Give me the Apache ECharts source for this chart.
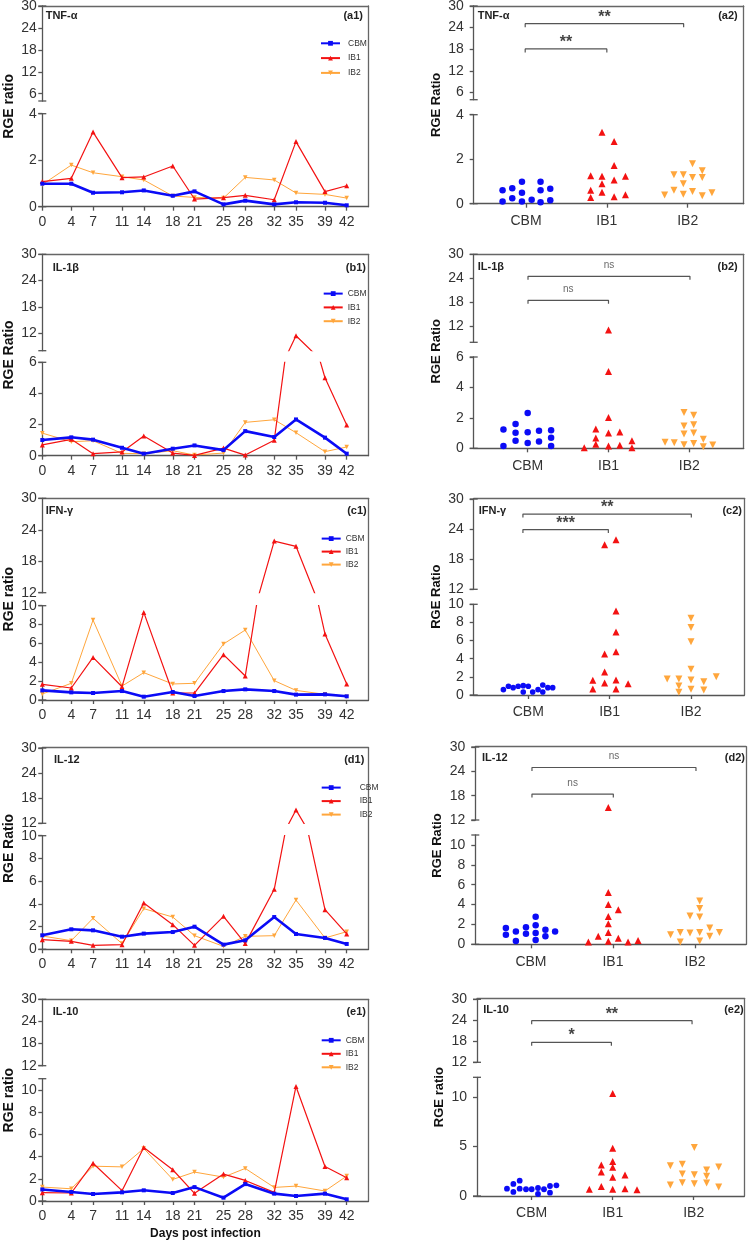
<!DOCTYPE html>
<html><head><meta charset="utf-8">
<script src="https://cdn.jsdelivr.net/npm/echarts@6/dist/echarts.min.js"></script>
<style>html,body{margin:0;padding:0;background:#fff}#c{width:752px;height:1243px}</style>
</head><body><div id="c"></div>
<script>
// ================= DATA =================
const days = [0,4,7,11,14,18,21,25,28,32,35,39,42];
const groups = ['CBM','IB1','IB2'];

// --- TNF-α ---
const tnfCBM = [0.99,0.99,0.60,0.62,0.70,0.47,0.66,0.10,0.26,0.10,0.19,0.17,0.06];
const tnfIB1 = [1.08,1.22,3.21,1.25,1.28,1.75,0.33,0.39,0.49,0.30,2.80,0.65,0.90];
const tnfIB2 = [0.95,1.79,1.46,1.29,1.15,0.46,0.40,0.37,1.26,1.15,0.59,0.53,0.37];
const tnfPtsCBM = [0.10,0.61,0.69,0.25,0.99,0.49,0.10,0.18,0.99,0.61,0.06,0.67,0.16];
const tnfJitCBM = [-0.29,-0.29,-0.17,-0.17,-0.05,-0.05,-0.05,0.07,0.18,0.18,0.18,0.30,0.30];
const tnfPtsIB1 = [1.26,0.61,0.28,3.21,1.23,0.90,0.51,2.79,1.72,1.06,0.31,1.23,0.40];
const tnfJitIB1 = [-0.20,-0.20,-0.20,-0.06,-0.06,-0.06,-0.06,0.09,0.09,0.09,0.09,0.23,0.23];
const tnfPtsIB2 = [0.39,1.30,0.60,1.30,0.90,0.43,1.80,1.18,0.55,1.48,1.18,0.36,0.49];
const tnfJitIB2 = [-0.285,-0.17,-0.17,-0.054,-0.054,-0.054,0.06,0.06,0.06,0.18,0.18,0.18,0.30];
const tnfSig = [{from:0.99,to:2.95,y:25.1,text:'**'},{from:0.99,to:2.0,y:18.1,text:'**'}];

// --- IL-1β ---
const il1CBM = [1.01,1.18,1.03,0.51,0.13,0.45,0.66,0.36,1.58,1.20,2.33,1.16,0.13];
const il1IB1 = [0.69,1.05,0.13,0.24,1.26,0.17,0.02,0.49,0.04,0.99,11.4,5.01,1.97];
const il1IB2 = [1.45,0.90,0.96,0.15,0.13,0.32,0.04,0.17,2.14,2.31,1.48,0.26,0.56];
const il1PtsCBM = [1.23,0.15,1.60,1.03,0.50,2.32,1.05,0.35,1.16,0.44,1.18,0.70,0.15];
const il1JitCBM = [-0.30,-0.30,-0.15,-0.15,-0.15,0,0,0,0.14,0.14,0.29,0.29,0.29];
const il1PtsIB1 = [0.04,1.27,0.68,0.26,11.1,5.04,2.02,1.01,0.15,1.07,0.20,0.50,0.04];
const il1JitIB1 = [-0.30,-0.157,-0.157,-0.157,0,0,0,0,0,0.14,0.14,0.29,0.29];
const il1PtsIB2 = [0.39,0.37,2.35,1.47,0.94,0.24,2.17,1.54,1.01,0.31,0.59,0.11,0.22];
const il1JitIB2 = [-0.30,-0.186,-0.066,-0.066,-0.066,-0.066,0.054,0.054,0.054,0.054,0.173,0.173,0.29];
const il1Sig = [{from:1.004,to:3.008,y:24.5,text:'ns'},{from:1.004,to:2.0,y:18.5,text:'ns'}];

// --- IFN-γ ---
const ifnCBM = [1.02,0.81,0.74,0.95,0.35,0.85,0.42,0.95,1.13,0.95,0.57,0.60,0.39];
const ifnIB1 = [1.66,1.27,4.52,1.41,9.29,0.74,0.74,4.81,2.54,21.85,20.84,7.0,1.70];
const ifnIB2 = [0.64,1.77,8.48,1.48,2.90,1.70,1.77,5.94,7.42,2.05,1.02,0.60,0.35];
const ifnPtsCBM = [0.59,0.96,0.81,0.96,1.03,0.33,0.96,0.33,0.59,1.10,0.33,0.81,0.81];
const ifnJitCBM = [-0.306,-0.244,-0.186,-0.124,-0.062,-0.062,0,0.054,0.12,0.178,0.178,0.24,0.30];
const ifnPtsIB1 = [1.62,0.66,20.86,4.52,2.54,1.32,21.86,9.26,6.95,4.78,1.65,0.66,1.25];
const ifnJitIB1 = [-0.207,-0.207,-0.062,-0.062,-0.062,-0.062,0.078,0.078,0.078,0.078,0.078,0.078,0.227];
const ifnPtsIB2 = [1.76,1.76,0.99,0.29,8.46,7.43,5.88,2.83,1.65,0.63,1.47,0.55,2.02];
const ifnJitIB2 = [-0.293,-0.149,-0.149,-0.149,0,0,0,0,0,0,0.157,0.157,0.31];
const ifnSig = [{from:0.934,to:3.004,y:27.0,text:'**'},{from:0.934,to:1.984,y:23.9,text:'***'}];

// --- IL-12 ---
const il12CBM = [1.23,1.76,1.67,1.11,1.38,1.52,1.99,0.41,0.79,2.84,1.35,1.00,0.47];
const il12IB1 = [0.85,0.70,0.35,0.41,4.08,2.17,0.35,2.90,0.50,5.28,15.2,3.49,1.35];
const il12IB2 = [1.17,0.76,2.73,0.50,3.58,2.84,1.20,0.26,1.14,1.20,4.34,1.00,1.55];
const il12PtsCBM = [1.64,0.97,1.30,0.33,1.71,1.07,2.78,1.91,1.14,0.43,1.47,0.80,1.30];
const il12JitCBM = [-0.306,-0.306,-0.184,-0.184,-0.061,-0.061,0.057,0.057,0.057,0.057,0.176,0.176,0.294];
const il12PtsIB1 = [0.23,0.80,15.1,5.22,4.01,2.81,2.07,1.20,0.30,3.48,0.60,0.23,0.37];
const il12JitIB1 = [-0.30,-0.18,-0.057,-0.057,-0.057,-0.057,-0.057,-0.057,-0.057,0.065,0.065,0.184,0.306];
const il12PtsIB2 = [0.97,1.20,0.23,2.84,1.14,4.35,3.61,2.74,1.20,0.33,1.64,0.80,1.20];
const il12JitIB2 = [-0.298,-0.18,-0.18,-0.061,-0.061,0.057,0.057,0.057,0.057,0.057,0.18,0.18,0.298];
const il12Sig = [{from:1.012,to:3.012,y:24.95,text:'ns'},{from:1.012,to:2.004,y:18.4,text:'ns'}];

// --- IL-10 ---
const il10CBM = [1.04,0.81,0.63,0.78,0.96,0.72,1.25,0.30,1.52,0.66,0.45,0.66,0.15];
const il10IB1 = [0.75,0.72,3.40,0.93,4.81,2.81,0.69,2.42,1.85,0.78,10.3,3.10,2.09];
const il10IB2 = [1.25,1.10,3.13,3.07,4.72,1.94,2.60,2.15,2.93,1.22,1.34,0.90,2.24];
const il10PtsCBM = [0.74,1.22,0.41,1.55,0.74,0.68,0.68,0.81,0.20,0.68,1.01,0.34,1.08];
const il10JitCBM = [-0.305,-0.226,-0.226,-0.148,-0.148,-0.07,0,0.078,0.078,0.152,0.226,0.226,0.305];
const il10PtsIB1 = [0.68,3.14,2.43,0.95,10.37,4.83,3.48,2.91,1.89,0.68,2.13,0.74,0.64];
const il10JitIB1 = [-0.288,-0.14,-0.14,-0.14,0,0,0,0,0,0,0.152,0.152,0.30];
const il10PtsIB2 = [3.07,1.11,3.21,2.23,1.35,4.90,2.16,1.25,2.64,1.99,1.32,2.94,0.91];
const il10JitIB2 = [-0.288,-0.288,-0.14,-0.14,-0.14,0.008,0.008,0.008,0.16,0.16,0.16,0.309,0.309];
const il10Sig = [{from:1.0,to:2.98,y:23.9,text:'**'},{from:1.0,to:1.984,y:17.7,text:'*'}];

// tick labels
const upTicksA = [6,12,18,24,30];
const upTicks = [12,18,24,30];

// ================= STYLE / LAYOUT =================
const FONT = '"Liberation Sans", Arial, Helvetica, sans-serif';
const COLORS = {CBM:'#0b0bf6', IB1:'#f31212', IB2:'#ffa63c'};
const LINE = {
  CBM:{width:2.6, symbol:'rect', size:4, rot:0, z:5},
  IB1:{width:1.2, symbol:'triangle', size:5, rot:0, z:4},
  IB2:{width:1.0, symbol:'triangle', size:4.5, rot:180, z:3}
};
const DOT = {
  CBM:{symbol:'circle', size:6.5, rot:0},
  IB1:{symbol:'triangle', size:7, rot:0},
  IB2:{symbol:'triangle', size:7, rot:180}
};
const AXC = '#555';
const axisLineStyle = {color:AXC, width:1.3};
const frameLineStyle = {color:'#666', width:1.3};

const leftPanels = [
  {title:'TNF-α', tag:'(a1)', yName:'RGE ratio', series:[tnfCBM,tnfIB1,tnfIB2],
   L:42.3, fTop:6, fBot:206.7, uTop:6, uBot:101, uMin:4, uLab:upTicksA, lTop:113.7, lBot:206.7, lMax:4, lLab:[0,2,4],
   tX:45.7, tY:17, tagX:363, leg:{left:320, top:38.8, gap:5.8, pad:3}},
  {title:'IL-1β', tag:'(b1)', yName:'RGE Ratio', series:[il1CBM,il1IB1,il1IB2],
   L:42.3, fTop:254.3, fBot:455.7, uTop:254.3, uBot:350.7, uMin:8, uLab:upTicks, lTop:362.3, lBot:455.7, lMax:6, lLab:[0,2,4,6],
   tX:52.7, tY:269.3, tagX:366, leg:{left:322.7, top:289.1, gap:4.8, pad:0}},
  {title:'IFN-γ', tag:'(c1)', yName:'RGE ratio', series:[ifnCBM,ifnIB1,ifnIB2],
   L:42.3, fTop:498.3, fBot:700, uTop:498.3, uBot:592.7, uMin:12, uLab:upTicks, lTop:605.7, lBot:700, lMax:10, lLab:[0,2,4,6,8,10],
   tX:45.7, tY:511.7, tagX:366.7, leg:{left:320.7, top:534.1, gap:4, pad:0}},
  {title:'IL-12', tag:'(d1)', yName:'RGE Ratio', series:[il12CBM,il12IB1,il12IB2],
   L:42.3, fTop:747.7, fBot:949.3, uTop:748, uBot:823.3, uMin:12, uLab:upTicks, lTop:835.7, lBot:949.3, lMax:10, lLab:[0,2,4,6,8,10],
   tX:54, tY:760.7, tagX:364.3, leg:{left:320.7, top:783.1, gap:4.5, pad:14}},
  {title:'IL-10', tag:'(e1)', yName:'RGE ratio', series:[il10CBM,il10IB1,il10IB2], xName:'Days post infection',
   L:42.3, fTop:999.3, fBot:1201, uTop:999.3, uBot:1065.7, uMin:12, uLab:upTicks, lTop:1078.7, lBot:1201, lMax:11, lLab:[0,2,4,6,8,10],
   tX:52.7, tY:1013.3, tagX:366, leg:{left:320.7, top:1035.8, gap:4.5, pad:0}}
];
const rightPanels = [
  {title:'TNF-α', tag:'(a2)', yName:'RGE Ratio', pts:[tnfPtsCBM,tnfPtsIB1,tnfPtsIB2], jit:[tnfJitCBM,tnfJitIB1,tnfJitIB2], sig:tnfSig, sigFont:16,
   L:473.7, R:743.7, xMin:0.353, xMax:3.693, fTop:6, fBot:203.7, uTop:6, uBot:99.7, uMin:4, uLab:upTicksA, lTop:114.7, lBot:203.7, lMax:4, lLab:[0,2,4],
   tX:477.7, tY:17, tagX:737.7},
  {title:'IL-1β', tag:'(b2)', yName:'RGE Ratio', pts:[il1PtsCBM,il1PtsIB1,il1PtsIB2], jit:[il1JitCBM,il1JitIB1,il1JitIB2], sig:il1Sig, sigFont:10,
   L:473.7, R:743.7, xMin:0.332, xMax:3.673, fTop:254.3, fBot:448.3, uTop:254.3, uBot:342.3, uMin:8, uLab:upTicks, lTop:357, lBot:448.3, lMax:6, lLab:[0,2,4,6],
   tX:477.7, tY:267.7, tagX:737.7},
  {title:'IFN-γ', tag:'(c2)', yName:'RGE Ratio', pts:[ifnPtsCBM,ifnPtsIB1,ifnPtsIB2], jit:[ifnJitCBM,ifnJitIB1,ifnJitIB2], sig:ifnSig, sigFont:16, dot:5.6,
   L:473.7, R:744.3, xMin:0.329, xMax:3.655, fTop:498.3, fBot:695, uTop:499, uBot:589.3, uMin:12, uLab:upTicks, lTop:604.3, lBot:695, lMax:10, lLab:[0,2,4,6,8,10],
   tX:478.7, tY:511.7, tagX:742},
  {title:'IL-12', tag:'(d2)', yName:'RGE Ratio', pts:[il12PtsCBM,il12PtsIB1,il12PtsIB2], jit:[il12JitCBM,il12JitIB1,il12JitIB2], sig:il12Sig, sigFont:10,
   L:475.3, R:746, xMin:0.321, xMax:3.622, fTop:746.7, fBot:944.3, uTop:747, uBot:820, uMin:12, uLab:upTicks, lTop:835, lBot:944.3, lMax:11, lLab:[0,2,4,6,8,10],
   tX:482, tY:759, tagX:745},
  {title:'IL-10', tag:'(e2)', yName:'RGE ratio', pts:[il10PtsCBM,il10PtsIB1,il10PtsIB2], jit:[il10JitCBM,il10JitIB1,il10JitIB2], sig:il10Sig, sigFont:16, dot:5.8,
   L:477, R:744.3, xMin:0.325, xMax:3.625, fTop:998.3, fBot:1196, uTop:999.3, uBot:1062.3, uMin:12, uLab:upTicks, lTop:1077.3, lBot:1196, lMax:12, lLab:[0,5,10],
   tX:483.3, tY:1010.7, tagX:743.7}
];

const W = 752;
const option = {
  animation:false, backgroundColor:'#ffffff',
  textStyle:{fontFamily:FONT},
  title:[], legend:[], grid:[], xAxis:[], yAxis:[], series:[]
};

function gridBox(left, top, width, height) {
  return {left, top, width, height, containLabel:false, outerBoundsMode:'none', show:false};
}
function hiddenAxis(grid, extra) {
  return Object.assign({gridIndex:grid, type:'value', min:0, max:1, axisLine:{show:false}, axisTick:{show:false},
    axisLabel:{show:false}, splitLine:{show:false}}, extra || {});
}
function yAx(grid, min, max, labels, margin) {
  return {gridIndex:grid, type:'value', min, max, position:'left',
    axisLine:{show:true, onZero:false, lineStyle:axisLineStyle, symbol:['rect','rect'], symbolSize:[8,1.3]},
    axisTick:{show:true, length:4, customValues:labels, lineStyle:axisLineStyle},
    axisLabel:{show:true, customValues:labels, margin, fontSize:14, color:'#333', fontFamily:FONT},
    splitLine:{show:false}};
}

function addPanel(p, isLeft) {
  const g = option.grid.length;
  const R = isLeft ? p.L + 45 * 7.248 : p.R;
  const w = R - p.L;
  option.grid.push(gridBox(p.L, p.fTop, w, p.fBot - p.fTop));
  option.grid.push(gridBox(p.L, p.uTop, w, p.uBot - p.uTop));
  option.grid.push(gridBox(p.L, p.lTop, w, p.lBot - p.lTop));
  const x0 = option.xAxis.length, y0 = option.yAxis.length;
  const xMin = isLeft ? 0 : p.xMin, xMax = isLeft ? 45 : p.xMax;
  // frame: top border + right border + axis name
  option.xAxis.push(hiddenAxis(g, {position:'top', axisLine:{show:true, onZero:false, lineStyle:frameLineStyle}}));
  option.yAxis.push(hiddenAxis(g, {position:'right', axisLine:{show:true, onZero:false, lineStyle:frameLineStyle}}));
  option.yAxis.push(hiddenAxis(g, {position:'left', name:p.yName, nameLocation:'middle', nameGap:isLeft ? 26 : 31,
    nameMoveOverlap:false,
    nameTextStyle:{fontSize:isLeft ? 14 : 13, fontWeight:'bold', color:'#111', fontFamily:FONT}}));
  // upper segment
  option.xAxis.push({gridIndex:g+1, type:'value', min:xMin, max:xMax, show:false});
  option.yAxis.push(yAx(g+1, p.uMin, 30, p.uLab, isLeft ? 5.5 : 10));
  // lower segment
  const xTicks = isLeft ? days : [1,2,3];
  const xAxisLo = {gridIndex:g+2, type:'value', min:xMin, max:xMax, position:'bottom',
    axisLine:{show:true, onZero:false, lineStyle:axisLineStyle},
    axisTick:{show:true, length:4, customValues:xTicks, lineStyle:axisLineStyle},
    axisLabel:{show:true, customValues:xTicks, margin:isLeft ? 8 : 10.5, fontSize:14, color:'#333', fontFamily:FONT,
      formatter: isLeft ? (v => String(v)) : (v => groups[Math.round(v) - 1])},
    splitLine:{show:false}};
  if (p.xName) {
    Object.assign(xAxisLo, {name:p.xName, nameLocation:'middle', nameGap:27, nameMoveOverlap:false,
      nameTextStyle:{fontSize:12, fontWeight:'bold', color:'#111', fontFamily:FONT}});
  }
  option.xAxis.push(xAxisLo);
  option.yAxis.push(yAx(g+2, 0, p.lMax, p.lLab, isLeft ? 5.5 : 10));

  // titles
  option.title.push({text:p.title, left:p.tX, top:p.tY - 6.5, padding:0,
    textStyle:{fontSize:11, fontWeight:'bold', color:'#222', fontFamily:FONT}});
  option.title.push({text:p.tag, right:W - p.tagX, top:p.tY - 6.5, padding:0,
    textStyle:{fontSize:11, fontWeight:'bold', color:'#222', fontFamily:FONT}});

  return {up:{x:x0+1, y:y0+2}, lo:{x:x0+2, y:y0+3}, uPx:(p.uBot - p.uTop) / (30 - p.uMin)};
}

// ---- left panels: time courses ----
leftPanels.forEach(p => {
  const ax = addPanel(p, true);
  groups.forEach((name, gi) => {
    const st = LINE[name];
    const data = days.map((d, i) => [d, p.series[gi][i]]);
    ['up','lo'].forEach(seg => {
      option.series.push({type:'line', name, xAxisIndex:ax[seg].x, yAxisIndex:ax[seg].y, data,
        clip:true, symbol:st.symbol, symbolSize:st.size, symbolRotate:st.rot, showSymbol:true,
        lineStyle:{color:COLORS[name], width:st.width}, itemStyle:{color:COLORS[name]},
        z:st.z, silent:true});
    });
  });
  option.legend.push({data:groups, orient:'vertical', left:p.leg.left, top:p.leg.top, padding:0,
    itemWidth:19, itemHeight:6, itemGap:p.leg.gap, selectedMode:false,
    textStyle:{fontSize:8.5, color:'#333', fontFamily:FONT, padding:[0,0,0,p.leg.pad]}});
});

// ---- right panels: grouped scatter ----
rightPanels.forEach((p, pi) => {
  const ax = addPanel(p, false);
  groups.forEach((name, gi) => {
    const st = DOT[name];
    const data = p.pts[gi].map((v, i) => [gi + 1 + p.jit[gi][i], v]);
    const size = (name === 'CBM' && p.dot) ? p.dot : st.size;
    ['up','lo'].forEach(seg => {
      option.series.push({type:'scatter', name:name + '-pts-' + pi, xAxisIndex:ax[seg].x, yAxisIndex:ax[seg].y,
        data, clip:true, symbol:st.symbol, symbolSize:size, symbolRotate:st.rot,
        itemStyle:{color:COLORS[name], opacity:1}, silent:true, z:3});
    });
  });
  // significance brackets
  const drop = 3.5 / ax.uPx;
  p.sig.forEach((s, si) => {
    option.series.push({type:'line', name:'sig-' + pi + '-' + si, xAxisIndex:ax.up.x, yAxisIndex:ax.up.y,
      data:[[s.from, s.y - drop],[s.from, s.y],[s.to, s.y],[s.to, s.y - drop]],
      symbol:'none', clip:false, lineStyle:{color:'#555', width:1.2}, silent:true, z:2});
    const isNs = s.text === 'ns';
    option.series.push({type:'scatter', name:'sigtxt-' + pi + '-' + si, xAxisIndex:ax.up.x, yAxisIndex:ax.up.y,
      data:[[(s.from + s.to) / 2, s.y]], symbolSize:1, itemStyle:{color:'rgba(0,0,0,0)'}, clip:false, silent:true,
      label:{show:true, position:'inside', offset:[0, isNs ? -11 : -6.5], formatter:s.text,
        fontSize:isNs ? 10 : p.sigFont, fontWeight:isNs ? 'normal' : 'bold', color:isNs ? '#444' : '#111', fontFamily:FONT}});
  });
});

const chart = echarts.init(document.getElementById('c'), null, {renderer:'canvas', width:752, height:1243});
chart.setOption(option);
</script>
</body></html>
